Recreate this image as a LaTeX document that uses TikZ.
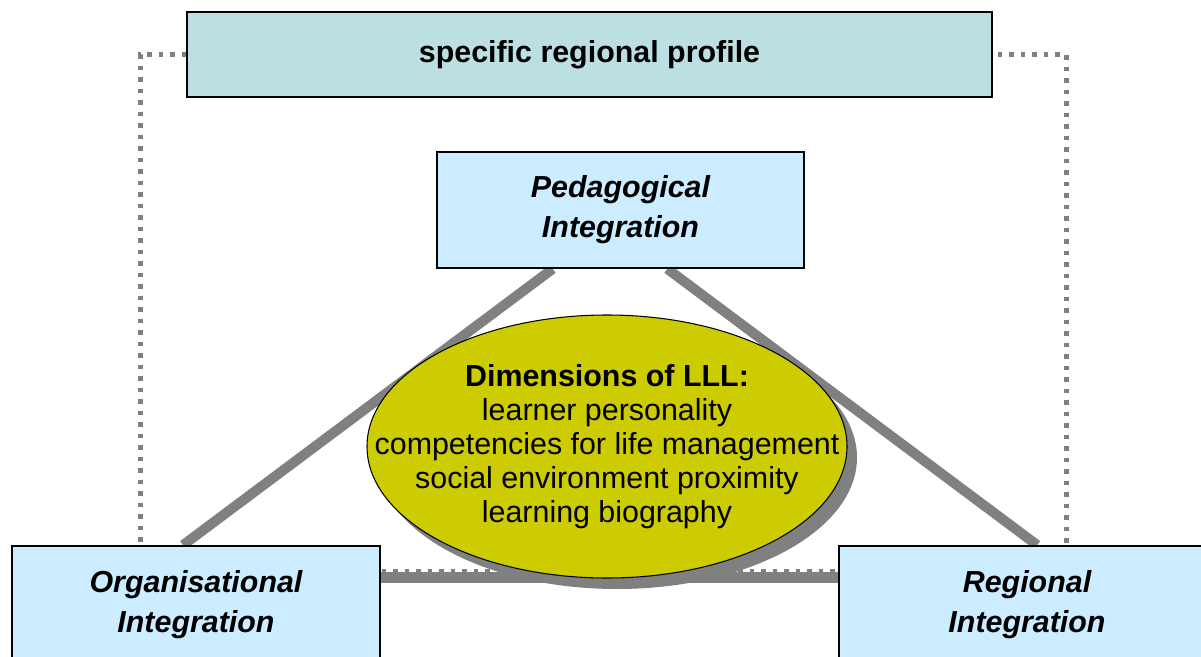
\documentclass[tikz,border=0pt]{standalone}
\usepackage{fontspec}
\setmainfont{Liberation Sans}
\usetikzlibrary{shapes,shapes.misc,shadows,calc,backgrounds}
\definecolor{profilecol}{HTML}{BCE0E2}
\definecolor{boxcol}{HTML}{CCECFF}
\definecolor{lllcol}{HTML}{CCCC00}
\definecolor{linecol}{HTML}{808080}

\begin{document}
\begin{tikzpicture}
   \useasboundingbox (0,0) rectangle (24.02,-13.14);
   \tikzstyle{main}=[rectangle, draw=black, line width=1pt, fill=boxcol, align=center, inner sep=0pt, font=\fontsize{17.3}{22.7}\selectfont\bfseries\itshape]
   \tikzstyle{link}=[draw=linecol, line width=0.2cm]
   \tikzstyle{frame}=[draw=linecol, line width=0.1cm, dash pattern=on 0.09cm off 0.14cm]
   \node[main, fill=profilecol, font=\fontsize{17.3}{22.7}\selectfont\bfseries, minimum width=16.1cm, minimum height=1.7cm] (profile) at (11.79,-1.09) {specific regional profile};
   \node[main, minimum width=7.34cm, minimum height=2.32cm] (pedagogical) at (12.41,-4.2) {Pedagogical\\Integration};
   \node[main, minimum width=7.36cm, minimum height=2.36cm] (organisational) at (3.92,-12.1) {Organisational\\Integration};
   \node[main, minimum width=7.52cm, minimum height=2.36cm] (regional) at (20.54,-12.1) {Regional\\Integration};
   \begin{scope}[on background layer]
      \coordinate (fl) at (2.8,-11.43);
      \coordinate (fr) at (21.32,-11.43);
      \path[link] ($(pedagogical.south west)!0.316!(pedagogical.south east)$) -- ($(organisational.north west)!0.465!(organisational.north east)$);
      \path[link] ($(pedagogical.south west)!0.627!(pedagogical.south east)$) -- ($(regional.north west)!0.527!(regional.north east)$);
      \path[link, line width=0.22cm] ([yshift=-0.65cm]organisational.north east) -- ([yshift=-0.65cm]regional.north west);
      \path[frame] (profile.west) -| (fl) -- (fr) |- (profile.east);
   \end{scope}
   % the LLL ellipse, text set on top of it
   \node[ellipse, draw=black, line width=0.6pt, fill=lllcol, minimum width=9.6cm, minimum height=5.26cm, inner sep=0pt, drop shadow={shadow xshift=0.2cm, shadow yshift=-0.22cm, fill=linecol, opacity=1}] (lllbox) at (12.14,-8.93) {};
   \node[align=center, inner sep=0pt, font=\fontsize{17.3}{19.3}\selectfont] (lll) at (lllbox.center) {\textbf{Dimensions of LLL:}\\learner personality\\competencies for life management\\social environment proximity\\learning biography};
\end{tikzpicture}
\end{document}
